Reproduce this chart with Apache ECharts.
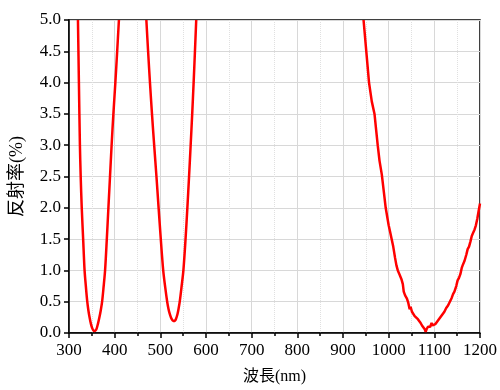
<!DOCTYPE html>
<html>
<head>
<meta charset="utf-8">
<script src="https://cdn.jsdelivr.net/npm/echarts@6/dist/echarts.min.js"></script>
<style>html,body{margin:0;padding:0;background:#fff}#c{width:500px;height:390px}</style>
</head>
<body>
<div id="c"></div>
<script>
// Axis labels / titles
var xTitle = '波長(nm)';
var yTitle = '反射率(%)';

// Band 1 (around 356 nm)
var band1Wl = [319.6, 321.7, 323.9, 325.6, 327.9, 331.0, 334.1, 337, 340, 342.5, 345, 348, 351, 353.5, 355.8, 358, 360.5, 363.5, 366.6, 369.5, 372.5, 375.8, 379, 382.8, 386.3, 389.8, 393.3, 397.2, 401.5, 405.5, 409.3];
var band1R  = [5.0, 4.0, 3.0, 2.5, 2.0, 1.5, 1.0, 0.74, 0.5, 0.36, 0.25, 0.145, 0.074, 0.04, 0.03, 0.04, 0.07, 0.15, 0.25, 0.36, 0.5, 0.74, 1.0, 1.5, 2.0, 2.5, 3.0, 3.5, 4.0, 4.5, 5.0];

// Band 2 (around 530 nm)
var band2Wl = [469.4, 473.2, 477.3, 481.7, 486.5, 491.5, 496.2, 501.0, 506.3, 510.5, 515, 518, 520.8, 523.5, 526, 528, 530, 532, 534, 537.5, 540, 542.5, 546.5, 550.5, 555.2, 559.2, 562.9, 566.4, 569.8, 572.9, 575.8, 578.6];
var band2R  = [5.0, 4.5, 4.0, 3.5, 3.0, 2.5, 2.0, 1.5, 1.0, 0.74, 0.5, 0.38, 0.3, 0.245, 0.21, 0.195, 0.19, 0.198, 0.22, 0.3, 0.39, 0.5, 0.74, 1.0, 1.5, 2.0, 2.5, 3.0, 3.5, 4.0, 4.5, 5.0];

// Band 3 (around 1080 nm)
var band3Wl = [945, 951, 957, 963, 969, 972.5, 976, 980, 985, 989.5, 993.5, 997, 1000, 1003, 1006.5, 1010, 1014, 1017, 1020, 1024, 1028, 1031, 1033, 1036, 1040, 1043, 1046, 1048, 1051, 1054, 1057, 1060, 1064, 1067, 1070, 1073, 1076, 1079, 1081, 1083, 1086, 1088, 1091, 1094, 1096, 1099, 1102, 1105, 1108, 1111, 1114, 1118, 1122, 1126, 1130, 1134, 1138, 1141, 1144, 1148, 1151, 1154, 1157, 1160, 1163, 1166, 1170, 1173, 1176, 1179, 1182, 1185, 1188, 1191, 1194, 1197, 1200];
var band3R  = [5.0, 4.5, 4.0, 3.7, 3.5, 3.25, 3.0, 2.75, 2.53, 2.25, 2.0, 1.85, 1.72, 1.62, 1.5, 1.38, 1.2, 1.08, 1.0, 0.93, 0.86, 0.78, 0.66, 0.6, 0.55, 0.48, 0.38, 0.42, 0.34, 0.36, 0.27, 0.28, 0.22, 0.2, 0.16, 0.12, 0.09, 0.06, 0.02, 0.06, 0.1, 0.07, 0.1, 0.16, 0.12, 0.13, 0.14, 0.17, 0.2, 0.22, 0.26, 0.3, 0.34, 0.4, 0.44, 0.5, 0.56, 0.62, 0.66, 0.75, 0.84, 0.88, 0.94, 1.04, 1.1, 1.15, 1.25, 1.34, 1.38, 1.46, 1.55, 1.6, 1.65, 1.72, 1.82, 1.95, 2.07];

function pairs(xs, ys) { return xs.map(function (x, i) { return [x, ys[i]]; }); }

var FONT = '"Liberation Serif", "Noto Sans CJK TC", serif';
var chart = echarts.init(document.getElementById('c'), null, {renderer: 'canvas'});

function seriesOf(xs, ys, sm) {
  return {
    type: 'line', data: pairs(xs, ys), showSymbol: false, symbol: 'none',
    clip: true, smooth: sm,
    lineStyle: {color: '#ff0000', width: 2.5}, itemStyle: {color: '#ff0000'},
    z: 5
  };
}

chart.setOption({
  animation: false,
  backgroundColor: '#fff',
  grid: {left: 68, right: 17, top: 20, bottom: 57, show: true, borderColor: '#000', borderWidth: 1.5, backgroundColor: 'transparent'},
  xAxis: {
    type: 'value', min: 300, max: 1200, interval: 100,
    name: xTitle, nameLocation: 'middle', nameGap: 36,
    nameTextStyle: {fontFamily: FONT, fontSize: 16, color: '#000'},
    axisLine: {show: true, onZero: false, lineStyle: {color: '#000', width: 1.5}},
    axisTick: {show: true, inside: false, length: 5, lineStyle: {color: '#000', width: 1.5}},
    minorTick: {show: true, splitNumber: 2, length: 3, lineStyle: {color: '#000', width: 1.5}},
    axisLabel: {fontFamily: FONT, fontSize: 17, color: '#000', margin: 9, formatter: function (v) { return String(v); }},
    splitLine: {show: true, lineStyle: {color: '#d8d8d8', width: 1}},
    minorSplitLine: {show: true, lineStyle: {color: '#e0e0e0', width: 1, type: 'dotted'}}
  },
  yAxis: {
    type: 'value', min: 0, max: 5, interval: 0.5,
    name: yTitle, nameLocation: 'middle', nameGap: 43, nameRotate: 90,
    nameTextStyle: {fontFamily: FONT, fontSize: 18, color: '#000'},
    axisLine: {show: true, onZero: false, lineStyle: {color: '#000', width: 1.5}},
    axisTick: {show: true, inside: false, length: 5, lineStyle: {color: '#000', width: 1.5}},
    axisLabel: {fontFamily: FONT, fontSize: 17, color: '#000', margin: 8, formatter: function (v) { return v.toFixed(1); }},
    splitLine: {show: true, lineStyle: {color: '#d8d8d8', width: 1}}
  },
  series: [seriesOf(band1Wl, band1R, 0.3), seriesOf(band2Wl, band2R, 0.3), seriesOf(band3Wl, band3R, false)]
});
</script>
</body>
</html>
